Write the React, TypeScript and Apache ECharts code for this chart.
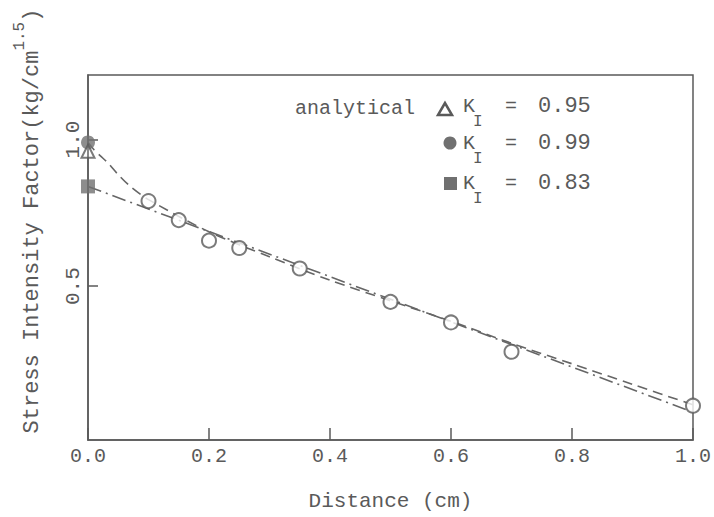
import React, { useEffect, useRef } from "react";
import * as echarts from "echarts";

const xTicks = [0, 0.2, 0.4, 0.6, 0.8, 1.0];
const yTicks = [0.5, 1.0];

const distance = [0.1, 0.15, 0.2, 0.25, 0.35, 0.5, 0.6, 0.7, 1.0];
const measured = [0.79, 0.725, 0.655, 0.63, 0.56, 0.446, 0.376, 0.276, 0.092];

const dashX = [0, 0.01, 0.02, 0.033, 0.05, 0.07, 0.1, 0.2, 0.3, 0.4, 0.5, 0.6, 0.7, 0.8, 0.9, 1.0];
const dashY = [0.99, 0.965, 0.945, 0.92, 0.88, 0.84, 0.795, 0.685, 0.6, 0.52, 0.45, 0.38, 0.305, 0.235, 0.165, 0.095];

const dashDotX = [0, 1.0];
const dashDotY = [0.84, 0.07];

const kTriangle = 0.96;
const kCircle = 0.99;
const kSquare = 0.84;

const legendLabels = ["0.95", "0.99", "0.83"];

const FONT = "'Liberation Mono', 'Courier New', monospace";
const INK = "#5a5a5a";
const FILL = "#707070";

export default function App() {
  const ref = useRef<HTMLDivElement>(null);
  useEffect(() => {
    document.body.style.margin = "0";
    const chart = echarts.init(ref.current!, null, { renderer: "svg" });
    const rowsY = [106, 143, 183];
    const legendGraphics: any[] = [
      {
        type: "text",
        x: 355,
        y: 108,
        style: { text: "analytical", font: `20px ${FONT}`, fill: INK, align: "center", verticalAlign: "middle" },
      },
      {
        type: "polygon",
        shape: { points: [[445, 103], [438, 115], [452, 115]] },
        style: { fill: "#fff", stroke: INK, lineWidth: 2.5 },
      },
      { type: "circle", shape: { cx: 450, cy: 143, r: 6.5 }, style: { fill: FILL } },
      { type: "rect", shape: { x: 444, y: 177, width: 13, height: 13 }, style: { fill: FILL } },
    ];
    rowsY.forEach((ry, i) => {
      legendGraphics.push(
        { type: "text", x: 463, y: ry, style: { text: "K", font: `20px ${FONT}`, fill: INK, verticalAlign: "middle" } },
        { type: "text", x: 473, y: ry + 16, style: { text: "I", font: `16px ${FONT}`, fill: INK, verticalAlign: "middle" } },
        { type: "text", x: 511, y: ry, style: { text: "=", font: `20px ${FONT}`, fill: INK, align: "center", verticalAlign: "middle" } },
        { type: "text", x: 538, y: ry, style: { text: legendLabels[i], font: `22px ${FONT}`, fill: INK, verticalAlign: "middle" } }
      );
    });

    chart.setOption({
      animation: false,
      backgroundColor: "#fff",
      grid: {
        left: 88,
        right: 19,
        top: 75,
        bottom: 71,
        show: true,
        borderColor: INK,
        borderWidth: 1.5,
        backgroundColor: "transparent",
      },
      xAxis: {
        type: "value",
        min: 0,
        max: 1,
        interval: 0.2,
        name: "Distance (cm)",
        nameLocation: "middle",
        nameGap: 51,
        nameTextStyle: { fontFamily: FONT, fontSize: 21, color: INK },
        axisLine: { show: true, onZero: false, lineStyle: { color: INK, width: 1.5 } },
        axisTick: { show: true, inside: true, length: 12, lineStyle: { color: INK, width: 1.5 } },
        axisLabel: {
          margin: 6,
          fontFamily: FONT,
          fontSize: 20,
          color: INK,
          formatter: (v: number) => v.toFixed(1),
        },
        splitLine: { show: false },
      },
      yAxis: {
        type: "value",
        min: -0.025,
        max: 1.22,
        axisLine: { show: true, onZero: false, lineStyle: { color: INK, width: 1.5 } },
        axisTick: { show: true, inside: true, length: 10, customValues: yTicks, lineStyle: { color: INK, width: 1.5 } },
        axisLabel: {
          customValues: yTicks,
          rotate: 90,
          margin: 4,
          fontFamily: FONT,
          fontSize: 21,
          color: INK,
          formatter: (v: number) => v.toFixed(1),
        },
        splitLine: { show: false },
      },
      graphic: [
        {
          type: "text",
          x: 32,
          y: 221,
          rotation: Math.PI / 2,
          style: {
            text: "{n|Stress Intensity Factor(kg/cm}{s|1.5}{n|)}",
            align: "center",
            verticalAlign: "middle",
            rich: {
              n: { fontFamily: FONT, fontSize: 22, fill: INK },
              s: { fontFamily: FONT, fontSize: 16, fill: INK, padding: [0, 0, 24, 0] },
            },
          },
        },
        ...legendGraphics,
      ],
      series: [
        {
          type: "line",
          data: dashX.map((x, i) => [x, dashY[i]]),
          symbol: "none",
          smooth: 0.3,
          lineStyle: { color: "#666", width: 1.6, type: [10, 6] },
          z: 2,
        },
        {
          type: "line",
          data: dashDotX.map((x, i) => [x, dashDotY[i]]),
          symbol: "none",
          lineStyle: { color: "#666", width: 1.6, type: [14, 5, 2, 5] },
          z: 2,
        },
        {
          type: "scatter",
          data: distance.map((x, i) => [x, measured[i]]),
          symbol: "circle",
          symbolSize: 14,
          itemStyle: { color: "#fff", borderColor: INK, borderWidth: 2 },
          z: 3,
        },
        {
          type: "scatter",
          data: [[0, kCircle]],
          symbol: "circle",
          symbolSize: 14,
          itemStyle: { color: FILL },
          z: 4,
        },
        {
          type: "scatter",
          data: [[0, kTriangle]],
          symbol: "triangle",
          symbolSize: 13,
          itemStyle: { color: "rgba(255,255,255,0.3)", borderColor: INK, borderWidth: 2 },
          z: 5,
        },
        {
          type: "scatter",
          data: [[0, kSquare]],
          symbol: "rect",
          symbolSize: 14,
          itemStyle: { color: FILL },
          z: 4,
        },
      ],
    });
    return () => chart.dispose();
  }, []);
  return <div ref={ref} style={{ width: 714, height: 517 }} />;
}
